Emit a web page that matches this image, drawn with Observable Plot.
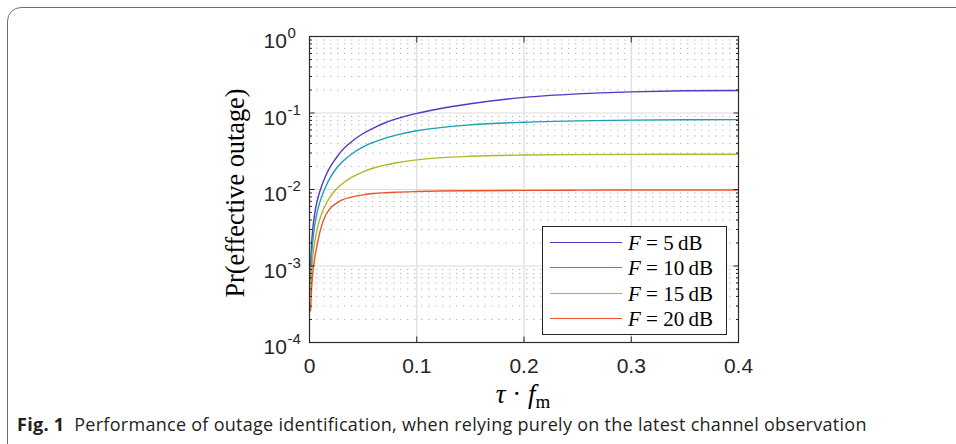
<!DOCTYPE html>
<html><head><meta charset="utf-8">
<script src="https://cdn.jsdelivr.net/npm/d3@7"></script>
<script src="https://cdn.jsdelivr.net/npm/@observablehq/plot@0.6"></script>
<style>
html,body{margin:0;padding:0;background:#fff;width:956px;height:444px;overflow:hidden;}
#wrap{position:relative;width:956px;height:444px;}
#box{position:absolute;left:7px;top:7px;width:1000px;height:500px;border:1.3px solid #707070;border-radius:14px;}
#chart{position:absolute;left:0;top:0;}
#legend{position:absolute;left:542px;top:226px;width:183px;height:107px;border:1px solid #262626;background:#fff;font-family:"Liberation Serif",serif;font-size:21px;color:#000;}
.row{position:absolute;left:0;height:24px;width:183px;}
.sw{position:absolute;left:7px;top:11px;width:72px;height:0;border-top:1.4px solid;}
.lt{position:absolute;left:85px;top:0;line-height:24px;white-space:nowrap;}
#caption{position:absolute;left:17px;top:412px;font-family:"Open Sans",sans-serif;font-size:18px;color:#231f20;white-space:nowrap;letter-spacing:0.28px;}
</style>
</head><body>
<div id="wrap">
<div id="box"></div>
<div id="chart"></div>
<div id="legend"></div>
<div id="caption"><b>Fig. 1</b>&nbsp; Performance of outage identification, when relying purely on the latest channel observation</div>
</div>
<script>
// x values (tau * f_m)
const tau = [0.001, 0.002, 0.003, 0.005, 0.0075, 0.01, 0.015, 0.02, 0.025, 0.03, 0.04, 0.05, 0.06, 0.07, 0.08, 0.1, 0.12, 0.15, 0.2, 0.25, 0.3, 0.35, 0.4];
// Pr(effective outage) per fade margin
const p5  = [0.0010, 0.0020, 0.0030, 0.0050, 0.0074, 0.0098, 0.0150, 0.0205, 0.0260, 0.0320, 0.0430, 0.0540, 0.0640, 0.0740, 0.0830, 0.0990, 0.1130, 0.1320, 0.1600, 0.1780, 0.1890, 0.1950, 0.1970];
const p10 = [0.00065, 0.00135, 0.00205, 0.0035, 0.0053, 0.0071, 0.0108, 0.0148, 0.0188, 0.0225, 0.0295, 0.0360, 0.0415, 0.0465, 0.0510, 0.0585, 0.0640, 0.0700, 0.0758, 0.0790, 0.0808, 0.0816, 0.0818];
const p15 = [0.00042, 0.00085, 0.0013, 0.0021, 0.0032, 0.0043, 0.0063, 0.0083, 0.0101, 0.0117, 0.0146, 0.0170, 0.0191, 0.0208, 0.0222, 0.0244, 0.0259, 0.0272, 0.0282, 0.0286, 0.0288, 0.0289, 0.0289];
const p20 = [0.00026, 0.00052, 0.00078, 0.0013, 0.0020, 0.0029, 0.0046, 0.0058, 0.0066, 0.00725, 0.0080, 0.0085, 0.00885, 0.00905, 0.0092, 0.0094, 0.00955, 0.00965, 0.00975, 0.0098, 0.00983, 0.00985, 0.00985];
const seriesNames = ["5", "10", "15", "20"];
const seriesColors = ["#5a33c4", "#1a9fb3", "#b4b42c", "#ee5228"];
const xTicks = [0, 0.1, 0.2, 0.3, 0.4];
const xTickLabels = ["0", "0.1", "0.2", "0.3", "0.4"];
const yDecades = [1e-4, 1e-3, 1e-2, 1e-1, 1];
const yExponents = ["-4", "-3", "-2", "-1", "0"];

const allSeries = [p5, p10, p15, p20];
const data = [];
allSeries.forEach((s, i) => s.forEach((v, j) => data.push({tau: tau[j], p: v, series: seriesNames[i]})));

const yMinor = [];
for (let d = 0; d < yDecades.length - 1; d++) for (let k = 2; k <= 9; k++) yMinor.push(yDecades[d] * k);

const expByDecade = new Map(yDecades.map((d, i) => [d, yExponents[i]]));
const xLab = new Map(xTicks.map((d, i) => [d, xTickLabels[i]]));

const chart = Plot.plot({
  width: 956, height: 444,
  marginLeft: 309, marginRight: 218, marginTop: 36, marginBottom: 102,
  style: {fontFamily: "Liberation Sans, Arial, sans-serif", fontSize: "21px", color: "#262626", background: "transparent"},
  x: {domain: [0, 0.4], label: null},
  y: {type: "log", domain: [1e-4, 1], label: null},
  color: {domain: seriesNames, range: seriesColors},
  marks: [
    Plot.gridY(yMinor, {stroke: "#b8b8b8", strokeOpacity: 1, strokeDasharray: "1.4,5.6"}),
    Plot.gridY(yDecades.slice(1, -1), {stroke: "#dcdcdc", strokeOpacity: 1, strokeWidth: 1.2}),
    Plot.gridX(xTicks.slice(1, -1), {stroke: "#dcdcdc", strokeOpacity: 1, strokeWidth: 1.2}),
    Plot.line(data, {x: "tau", y: "p", z: "series", stroke: "series", strokeWidth: 1.4, curve: "monotone-x"}),
    Plot.frame({stroke: "#2b2b2b", strokeWidth: 1.2}),
    Plot.axisY(yDecades, {anchor: "left", label: null, tickSize: -5.5, tickFormat: () => "", stroke: "#262626"}),
    Plot.axisY(yDecades, {anchor: "right", label: null, tickSize: -5.5, tickFormat: () => "", stroke: "#262626"}),
    Plot.axisY(yMinor, {anchor: "left", label: null, tickSize: -3, tickFormat: () => "", stroke: "#262626"}),
    Plot.axisY(yMinor, {anchor: "right", label: null, tickSize: -3, tickFormat: () => "", stroke: "#262626"}),
    Plot.axisX(xTicks, {anchor: "bottom", label: null, tickSize: -5.5, tickFormat: () => "", stroke: "#262626"}),
    Plot.axisX(xTicks, {anchor: "top", label: null, tickSize: -5.5, tickFormat: () => "", stroke: "#262626"}),
    Plot.axisX(xTicks, {anchor: "bottom", label: null, tickSize: 0, tickPadding: 16, tickFormat: d => xLab.get(d), fill: "#262626"}),
    Plot.text(yDecades, {y: d => d, frameAnchor: "left", dx: -46, dy: 5, textAnchor: "start", text: () => "10", fontSize: 21, fill: "#262626"}),
    Plot.text(yDecades, {y: d => d, frameAnchor: "left", dx: -22, dy: -3, textAnchor: "start", text: d => expByDecade.get(d), fontSize: 15, fill: "#262626"})
  ]
});
document.getElementById("chart").appendChild(chart);

// axis titles
const svg = d3.select(chart);
svg.append("text")
  .attr("transform", "translate(244,193) rotate(-90)")
  .attr("text-anchor", "middle")
  .attr("font-family", "Liberation Serif, serif")
  .attr("font-size", 26.3)
  .attr("fill", "#000")
  .text("Pr(effective outage)");
const xl = svg.append("text")
  .attr("x", 523).attr("y", 403)
  .attr("text-anchor", "middle")
  .attr("font-family", "Liberation Serif, serif")
  .attr("font-size", 27)
  .attr("fill", "#000");
xl.append("tspan").attr("font-style", "italic").text("τ");
xl.append("tspan").text(" · ");
xl.append("tspan").attr("font-style", "italic").text("f");
xl.append("tspan").attr("font-size", 19).attr("dy", 5).text("m");

// legend
const leg = document.getElementById("legend");
seriesNames.forEach((n, i) => {
  const r = document.createElement("div");
  r.className = "row";
  r.style.top = (4 + i * 25.3) + "px";
  r.innerHTML = `<div class="sw" style="border-color:${seriesColors[i]}"></div><div class="lt"><i>F</i>&nbsp;=&nbsp;${n}&#8201;dB</div>`;
  leg.appendChild(r);
});
</script>
</body></html>
